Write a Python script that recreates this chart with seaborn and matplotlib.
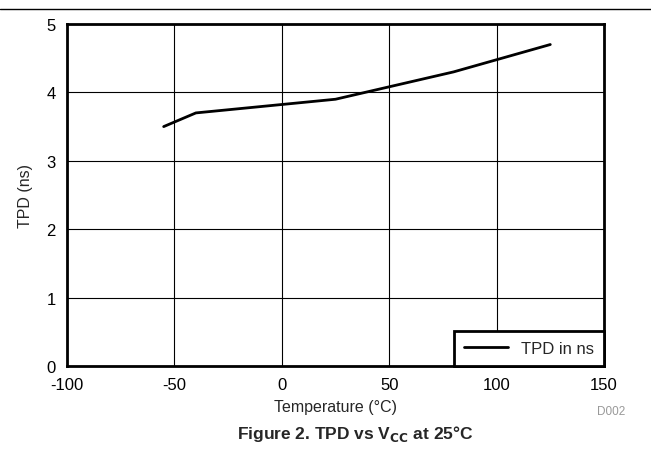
import matplotlib
matplotlib.use("Agg")
import matplotlib.pyplot as plt
import seaborn as sns
import pandas as pd

# data
temperature = [-55, -40, 25, 80, 125]
tpd_ns = [3.5, 3.7, 3.9, 4.3, 4.7]
x_ticks = [-100, -50, 0, 50, 100, 150]
y_ticks = [0, 1, 2, 3, 4, 5]

sns.set_theme(style="white")
plt.rcParams['font.family'] = ['Liberation Sans', 'DejaVu Sans']
plt.rcParams['axes.unicode_minus'] = False

df = pd.DataFrame({"Temperature": temperature, "TPD": tpd_ns})

fig = plt.figure(figsize=(6.51, 4.56), dpi=100)
ax = fig.add_axes([67 / 651, 1 - 367 / 456, 537 / 651, 342 / 456])

sns.lineplot(data=df, x="Temperature", y="TPD", ax=ax, color="black",
             linewidth=2, label="TPD in ns")

ax.set_xlim(-100, 150)
ax.set_ylim(0, 5)
ax.set_xticks(x_ticks)
ax.set_yticks(y_ticks)
ax.grid(True, color="black", linewidth=0.8)
for s in ax.spines.values():
    s.set_color("black")
    s.set_linewidth(2)
ax.tick_params(axis="x", labelsize=12, colors="black", length=0, pad=8)
ax.tick_params(axis="y", labelsize=12, colors="black", length=0, pad=8)
ax.set_xlabel("Temperature (\u00b0C)", fontsize=11.5, labelpad=5)
ax.set_ylabel("TPD (ns)", fontsize=11.5, labelpad=10)

leg = ax.legend(loc="lower right", fontsize=12, frameon=True, fancybox=False,
                borderaxespad=0, handlelength=2.6, borderpad=0.6, handletextpad=0.8)
leg.get_frame().set_edgecolor("black")
leg.get_frame().set_linewidth(2)
leg.get_frame().set_alpha(1)

# top rule, footer code and figure caption
fig.add_artist(plt.Line2D([0, 1], [1 - 10 / 456, 1 - 10 / 456], color="black", linewidth=1))
fig.text(625 / 651, 1 - 412 / 456, "D002", fontsize=8.5, color="#999999", ha="right", va="center")
fig.text(355 / 651, 1 - 434 / 456, r"Figure 2. TPD vs V$_{\mathbf{CC}}$ at 25°C",
         fontsize=12.5, fontweight="bold", ha="center", va="center")

fig.savefig("out.png", dpi=100)
